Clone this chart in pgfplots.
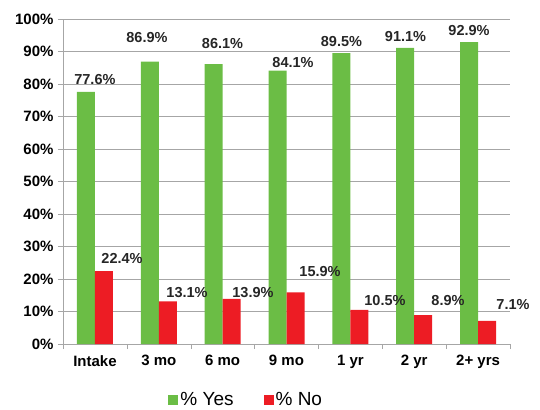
\documentclass[border=0pt]{standalone}
\usepackage{pgfplots}
\pgfplotsset{compat=1.18}
\usepackage{fontspec}
\setmainfont{Liberation Sans}
\definecolor{cgreen}{HTML}{6BBD45}
\definecolor{cred}{HTML}{ED1C24}
\definecolor{cgrid}{HTML}{A6A6A6}
\begin{document}
\begin{tikzpicture}
\useasboundingbox (-63bp,-66bp) rectangle (477bp,344bp);
\begin{axis}[
  scale only axis,
  width=447bp, height=325bp,
  ybar=0pt, bar width=18bp,
  xmin=-0.5, xmax=6.5, ymin=0, ymax=100,
  axis x line=bottom, axis y line=left,
  axis line style={cgrid, -},
  xtick={0,1,2,3,4,5,6},
  xticklabels={Intake,3 mo,6 mo,9 mo,1 yr,2 yr,2+ yrs},
  minor xtick={-0.5,0.5,1.5,2.5,3.5,4.5,5.5,6.5},
  major x tick style={draw=none},
  minor x tick style={cgrid},
  minor tick length=5bp,
  ytick={0,10,...,100},
  yticklabels={0\%,10\%,20\%,30\%,40\%,50\%,60\%,70\%,80\%,90\%,100\%},
  major y tick style={cgrid},
  major tick length=5bp,
  tick align=outside,
  ymajorgrids, grid style={cgrid, line width=0.8pt},
  ticklabel style={font=\bfseries\fontsize{15bp}{18bp}\selectfont},
  xticklabel style={yshift=-3bp},
  yticklabel style={xshift=-1bp},
  clip=false,
  legend style={at={(0.41,-0.172)}, anchor=center, draw=none, fill=none,
    legend columns=2, font=\fontsize{19bp}{22bp}\selectfont,
    /tikz/every even column/.append style={column sep=28bp},
    legend cell align=left},
  legend image code/.code={\fill[#1] (0bp,-5bp) rectangle (10bp,5bp);},
]
\addplot[fill=cgreen, draw=none] coordinates {(0,77.6) (1,86.9) (2,86.1) (3,84.1) (4,89.5) (5,91.1) (6,92.9)};
\addplot[fill=cred, draw=none] coordinates {(0,22.4) (1,13.1) (2,13.9) (3,15.9) (4,10.5) (5,8.9) (6,7.1)};
\legend{\% Yes,\% No}
\begin{scope}[every node/.style={font=\bfseries\fontsize{14.5bp}{17bp}\selectfont, text=black!85}]
\node at (axis cs:0.0,81.5) {77.6\%};
\node at (axis cs:0.815,94.2) {86.9\%};
\node at (axis cs:1.998,92.6) {86.1\%};
\node at (axis cs:3.102,86.5) {84.1\%};
\node at (axis cs:3.861,93.1) {89.5\%};
\node at (axis cs:4.864,94.6) {91.1\%};
\node at (axis cs:5.858,96.5) {92.9\%};
\node at (axis cs:0.424,26.2) {22.4\%};
\node at (axis cs:1.442,15.7) {13.1\%};
\node at (axis cs:2.475,15.7) {13.9\%};
\node at (axis cs:3.525,22.2) {15.9\%};
\node at (axis cs:4.542,13.5) {10.5\%};
\node at (axis cs:5.529,13.5) {8.9\%};
\node at (axis cs:6.547,12.0) {7.1\%};
\end{scope}
\end{axis}
\end{tikzpicture}
\end{document}
